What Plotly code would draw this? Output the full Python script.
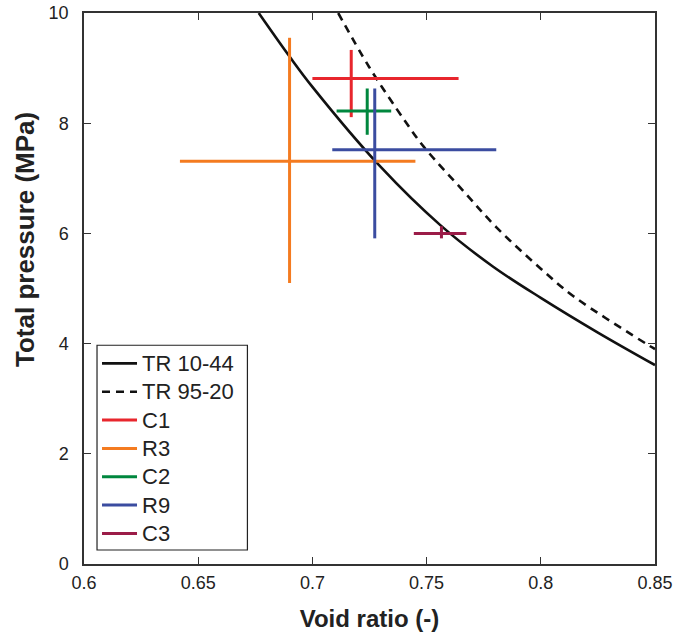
import plotly.graph_objects as go

# Model curves (void ratio vs total pressure)
tr1044_e = [0.6765, 0.690, 0.700, 0.7298, 0.756, 0.779, 0.800, 0.825, 0.850]
tr1044_p = [10.0, 9.21, 8.66, 7.21, 6.15, 5.40, 4.83, 4.20, 3.61]
tr9520_e = [0.7113, 0.7247, 0.7407, 0.7488, 0.7663, 0.7808, 0.800, 0.8143, 0.8464, 0.850]
tr9520_p = [10.0, 9.03, 8.03, 7.57, 6.76, 6.10, 5.36, 4.86, 3.99, 3.90]

# Measurements: centre, and range limits
names = ["C1", "R3", "C2", "R9", "C3"]
colors = ["#e8262d", "#f47b20", "#00873e", "#3b4ca0", "#9b1c48"]
e_c = [0.717, 0.690, 0.724, 0.7273, 0.7565]
e_lo = [0.700, 0.642, 0.7106, 0.7087, 0.7444]
e_hi = [0.764, 0.7451, 0.7345, 0.7805, 0.7674]
p_c = [8.81, 7.31, 8.22, 7.52, 6.00]
p_lo = [8.11, 5.10, 7.79, 5.91, 5.91]
p_hi = [9.33, 9.55, 8.63, 8.63, 6.13]

def lg(t):
    return '<span style="font-size:22px">' + t + '</span>'

fig = go.Figure()
fig.add_trace(go.Scatter(x=tr1044_e, y=tr1044_p, mode="lines", name=lg("TR 10-44"),
                         line=dict(color="#111111", width=2.6, shape="spline", smoothing=1.0),
                         legendgroup="a"))
fig.add_trace(go.Scatter(x=tr9520_e, y=tr9520_p, mode="lines", name=lg("TR 95-20"),
                         line=dict(color="#111111", width=2.6, dash="8px,6px", shape="spline", smoothing=1.0),
                         legendgroup="b"))
for i, n in enumerate(names):
    xs = [e_lo[i], e_hi[i], None, e_c[i], e_c[i]]
    ys = [p_c[i], p_c[i], None, p_lo[i], p_hi[i]]
    fig.add_trace(go.Scatter(x=xs, y=ys, mode="lines", name=lg(n),
                             line=dict(color=colors[i], width=3),
                             legendgroup=n))

font = "Liberation Sans, Arial, sans-serif"
axis_common = dict(showline=True, linecolor="#333333", linewidth=1.5, mirror="ticks",
                   ticks="inside", ticklen=7, tickcolor="#333333", tickwidth=1.2,
                   showgrid=False, zeroline=False, automargin=False,
                   tickfont=dict(family=font, size=18, color="#222222"))
fig.update_layout(
    width=675, height=637,
    margin=dict(l=84, r=20, t=13, b=73, autoexpand=False),
    paper_bgcolor="white", plot_bgcolor="white",
    xaxis=dict(range=[0.6, 0.85], tickvals=[0.6, 0.65, 0.7, 0.75, 0.8, 0.85],
               ticktext=["0.6", "0.65", "0.7", "0.75", "0.8", "0.85"],
               title=dict(text="<b>Void ratio (-)</b>", font=dict(family=font, size=24, color="#222222"), standoff=18),
               ticklabelstandoff=2, **axis_common),
    yaxis=dict(range=[0, 10], tickvals=[0, 2, 4, 6, 8, 10],
               ticklabelstandoff=10, **axis_common),
    showlegend=True,
    legend=dict(x=0.0228, y=0.399, xanchor="left", yanchor="top",
                font=dict(family=font, size=19.5, color="#222222"),
                bgcolor="rgba(0,0,0,0)", borderwidth=0, tracegroupgap=0,
                traceorder="normal", itemwidth=35),
    shapes=[dict(type="rect", xref="paper", yref="paper",
                 x0=0.0228, x1=0.2862, y0=0.0254, y1=0.397,
                 line=dict(color="#222222", width=1.2), fillcolor="rgba(0,0,0,0)")],
    annotations=[dict(text="<b>Total pressure (MPa)</b>", xref="paper", yref="paper",
                      x=0, y=0.588, xanchor="center", yanchor="middle", xshift=-59,
                      textangle=-90, showarrow=False,
                      font=dict(family=font, size=26, color="#222222"))],
)
fig.write_html("out.html")
